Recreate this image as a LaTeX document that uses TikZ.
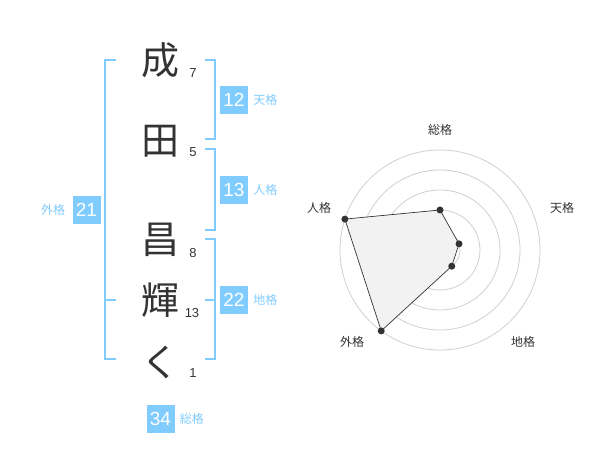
\documentclass[tikz,border=0pt]{standalone}
\usepackage{fontspec}
\setmainfont{Liberation Sans}
\newfontfamily\jp{Noto Sans CJK JP}
\usetikzlibrary{positioning,calc}
\definecolor{kakublue}{HTML}{80CCFF}
\definecolor{inkgray}{HTML}{333333}
\definecolor{ringgray}{HTML}{D0D0D0}
\definecolor{webfill}{HTML}{F2F2F2}

\begin{document}
\begin{tikzpicture}[x=1pt, y=-1pt]
    % Define styles
    \tikzstyle{kanji} = [font=\jp\fontsize{38}{38}\selectfont, text=inkgray, inner sep=0pt]
    \tikzstyle{strokenum} = [font=\fontsize{13}{13}\selectfont, text=inkgray, inner sep=0pt]
    \tikzstyle{score} = [fill=kakublue, text=white, minimum size=28pt, inner sep=0pt,
        font=\fontsize{19}{19}\selectfont]
    \tikzstyle{kaku} = [font=\jp\fontsize{12}{12}\selectfont, text=kakublue, inner sep=0pt]
    \tikzstyle{bracket} = [draw=kakublue, line width=2pt]
    \tikzstyle{ring} = [draw=ringgray, line width=0.8pt]
    \tikzstyle{axis} = [font=\jp\fontsize{12}{12}\selectfont, text=inkgray, inner sep=0pt]
    \tikzstyle{web} = [draw=inkgray, fill=webfill, line width=0.7pt]

    \useasboundingbox (0,0) rectangle (600,470);

    % Place name characters
    \node [kanji] (c1) at (160,60) {成};
    \node [kanji] (c2) at (160,141) {田};
    \node [kanji] (c3) at (160,240) {昌};
    \node [kanji] (c4) at (160,300) {輝};
    \node [kanji] (c5) at (160,362) {く};

    \node [strokenum] (n1) at (193,73) {7};
    \node [strokenum] (n2) at (193,152) {5};
    \node [strokenum] (n3) at (193,253) {8};
    \node [strokenum] (n4) at (192,313) {13};
    \node [strokenum] (n5) at (193,373) {1};

    % Brackets
    \draw [bracket] (116,60) -- (105,60) -- (105,359) -- (116,359);
    \draw [bracket] (105,300) -- (116,300);
    \draw [bracket] (205,60) -- (215,60) -- (215,139) -- (205,139);
    \draw [bracket] (205,149) -- (215,149) -- (215,230) -- (205,230);
    \draw [bracket] (205,239) -- (215,239) -- (215,359) -- (205,359);
    \draw [bracket] (205,300) -- (215,300);

    % Scores
    \node [score] (ten) at (234,100) {12};
    \node [kaku, right=5pt of ten] (tenl) {天格};
    \node [score] (jin) at (234,190) {13};
    \node [kaku, right=5pt of jin] (jinl) {人格};
    \node [score] (chi) at (234,300) {22};
    \node [kaku, right=5pt of chi] (chil) {地格};
    \node [score] (gai) at (86.5,210) {21};
    \node [kaku, left=7pt of gai] (gail) {外格};
    \node [score] (sou) at (160.5,419) {34};
    \node [kaku, right=5pt of sou] (soul) {総格};

    % Radar chart
    \coordinate (ctr) at (440,250);
    \foreach \r in {20,40,60,80,100}
        \draw [ring] (ctr) circle (\r);
    \fill [ringgray] (ctr) circle (3);

    \coordinate (psou) at ($(ctr)+(-90:40)$);
    \coordinate (pten) at ($(ctr)+(-18:20)$);
    \coordinate (pchi) at ($(ctr)+(54:20)$);
    \coordinate (pgai) at ($(ctr)+(126:100)$);
    \coordinate (pjin) at ($(ctr)+(-162:100)$);
    \path [web] (psou) -- (pten) -- (pchi) -- (pgai) -- (pjin) -- cycle;
    \foreach \p in {psou,pten,pchi,pgai,pjin}
        \fill [inkgray] (\p) circle (3.5);

    \node [axis] (asou) at (440,130) {総格};
    \node [axis] (aten) at (562,208) {天格};
    \node [axis] (achi) at (523,342) {地格};
    \node [axis] (agai) at (352,342) {外格};
    \node [axis] (ajin) at (319,208) {人格};
\end{tikzpicture}
\end{document}
